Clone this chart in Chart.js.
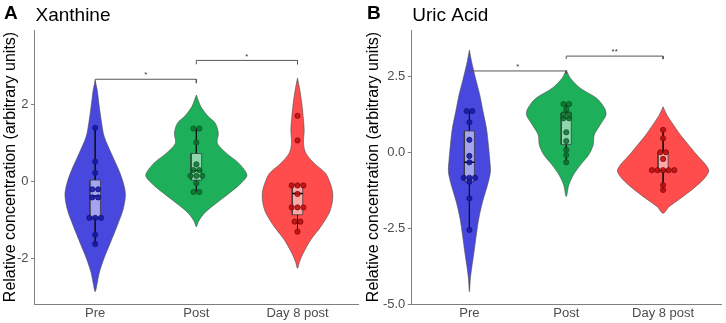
<!DOCTYPE html>
<html>
<head>
<meta charset="utf-8">
<script src="https://cdn.jsdelivr.net/npm/chart.js@4.4.0/dist/chart.umd.min.js"></script>
<style>
  body { margin: 0; background: #fff; width: 726px; height: 323px; overflow: hidden; position: relative; }
  .panel { position: absolute; top: 0; width: 363px; height: 323px; }
</style>
</head>
<body>
<div class="panel" style="left:0"><canvas id="chartA" width="363" height="323"></canvas></div>
<div class="panel" style="left:363px"><canvas id="chartB" width="363" height="323"></canvas></div>
<script>
// categories on the x axis
const categories = ["Pre", "Post", "Day 8 post"];

// ---- Xanthine (panel A) ----
const xanTicks = [-2, 0, 2];
// violin outline: levels and half widths (x units)
const xanPreVy = [2.62, 2.38, 2.04, 1.60, 1.17, 0.74, 0.30, -0.04, -0.35, -0.74, -1.17, -1.60, -2.03, -2.38, -2.64, -2.86];
const xanPreVw = [0, .02, .036, .059, .089, .158, .233, .279, .299, .274, .214, .148, .082, .039, .02, 0];
const xanPostVy = [2.25, 1.95, 1.69, 1.52, 1.26, 1.0, 0.74, 0.48, 0.17, -0.04, -0.30, -0.56, -0.82, -1.04, -1.17];
const xanPostVw = [0, .044, .118, .187, .217, .207, .296, .419, .5, .443, .325, .197, .079, .02, 0];
const xanDay8Vy = [2.69, 2.38, 2.04, 1.69, 1.34, 1.0, 0.74, 0.48, 0.22, -0.04, -0.30, -0.56, -0.82, -1.17, -1.51, -1.86, -2.08, -2.25];
const xanDay8Vw = [0, .023, .042, .056, .066, .059, .082, .164, .276, .323, .348, .342, .312, .23, .131, .056, .02, 0];
// individual samples
const xanPre = [1.40, 0.52, 0.23, -0.20, -0.20, -0.41, -0.41, -0.94, -0.94, -0.94, -1.38, -1.62];
const xanPost = [1.38, 1.38, 1.02, 0.45, 0.30, 0.30, 0.15, 0.15, 0.15, -0.04, -0.27, -0.27];
const xanDay8 = [1.71, 1.07, -0.10, -0.10, -0.10, -0.32, -0.67, -0.67, -0.67, -1.04, -1.04, -1.30];
// box stats: [lower whisker, q1, median, q3, upper whisker]
const xanBoxPre = [-1.62, -0.92, -0.37, 0.04, 1.40];
const xanBoxPost = [-0.27, 0.04, 0.29, 0.73, 1.38];
const xanBoxDay8 = [-1.30, -0.86, -0.31, -0.09, -0.09];
// significance brackets
const xanBrFrom = [1, 2];
const xanBrTo = [2, 3];
const xanBrY = [2.66, 3.15];
const xanStarY = [2.83, 3.32];
const xanStars = ["*", "*"];

// ---- Uric Acid (panel B) ----
const uricTicks = [-5, -2.5, 0, 2.5];
const uricPreVy = [3.37, 2.99, 2.44, 1.89, 1.34, 0.79, 0.24, -0.31, -0.64, -1.08, -1.63, -2.18, -2.73, -3.28, -3.82, -4.15, -4.6];
const uricPreVw = [0, .022, .063, .107, .141, .176, .196, .212, .217, .187, .136, .097, .071, .048, .023, .01, 0];
const uricPostVy = [2.71, 2.44, 2.11, 1.78, 1.45, 1.23, 0.90, 0.57, 0.24, -0.09, -0.42, -0.75, -1.08, -1.46];
const uricPostVw = [0, .043, .145, .314, .396, .41, .349, .289, .278, .23, .145, .073, .026, 0];
const uricDay8Vy = [1.50, 1.23, 0.90, 0.57, 0.24, -0.09, -0.42, -0.62, -0.86, -1.19, -1.52, -1.79, -2.01];
const uricDay8Vw = [0, .039, .107, .179, .263, .349, .442, .472, .426, .314, .179, .063, 0];
const uricPre = [1.36, 1.36, 0.99, 0.41, -0.12, -0.33, -0.84, -0.84, -0.84, -0.97, -1.52, -2.56];
const uricPost = [1.59, 1.59, 1.42, 1.25, 1.25, 1.12, 1.12, 0.66, 0.37, 0.08, -0.09, -0.33];
const uricDay8 = [0.74, 0.46, 0.0, 0.0, -0.22, -0.59, -0.59, -0.59, -0.59, -0.59, -1.08, -1.24];
const uricBoxPre = [-2.56, -0.95, -0.33, 0.70, 1.36];
const uricBoxPost = [-0.33, 0.26, 1.14, 1.29, 1.59];
const uricBoxDay8 = [-1.24, -0.64, -0.59, 0.0, 0.74];
const uricBrFrom = [1, 2];
const uricBrTo = [2, 3];
const uricBrY = [2.68, 3.17];
const uricStarY = [2.90, 3.38];
const uricStars = ["*", "**"];

// styles
const FONT = '"Liberation Sans", Arial, sans-serif';
const violinFill = ["#4848de", "#1daf5a", "#ff4c4c"];
const dotFill = ["rgba(25,25,165,0.9)", "rgba(10,115,45,0.85)", "rgba(195,15,15,0.9)"];
const dotLine = ["#12127a", "#0b5226", "#7e0b0b"];
const BOX_HW = 0.052;
const DOT_GAP = 0.058;
const AXIS_GREY = "#7f7f7f";

function violinOutline(c, ys, ws) {
  const right = ys.map((y, i) => ({ x: c + ws[i], y: y }));
  const left = ys.map((y, i) => ({ x: c - ws[i], y: y })).reverse();
  return right.concat(left.slice(1));
}
function boxOutline(c, b) {
  return [
    { x: c - BOX_HW, y: b[1] }, { x: c + BOX_HW, y: b[1] },
    { x: c + BOX_HW, y: b[3] }, { x: c - BOX_HW, y: b[3] },
    { x: c - BOX_HW, y: b[1] }
  ];
}
function whiskerLine(c, b) {
  return [{ x: c, y: b[4] }, { x: c, y: b[3] }, { x: c, y: null }, { x: c, y: b[1] }, { x: c, y: b[0] }];
}
// put equal values side by side
function spreadDots(c, vals) {
  const counts = {}, seen = {};
  vals.forEach(v => { counts[v] = (counts[v] || 0) + 1; });
  return vals.map(v => {
    seen[v] = seen[v] === undefined ? 0 : seen[v] + 1;
    return { x: c + (seen[v] - (counts[v] - 1) / 2) * DOT_GAP, y: v };
  });
}

const panelText = {
  id: "panelText",
  afterDraw(chart, args, opts) {
    const ctx = chart.ctx;
    const xs = chart.scales.x, ys = chart.scales.y;
    ctx.save();
    ctx.fillStyle = "#000";
    ctx.textBaseline = "alphabetic";
    ctx.font = "bold 19px " + FONT;
    ctx.fillText(opts.letter, 4, 18.5);
    ctx.font = "19px " + FONT;
    ctx.fillText(opts.title, chart.chartArea.left + 1, 21);
    ctx.font = "8px " + FONT;
    ctx.textAlign = "center";
    ctx.fillStyle = "#333";
    opts.starText.forEach((t, i) => {
      const xm = (opts.from[i] + opts.to[i]) / 2;
      ctx.fillText(t, xs.getPixelForValue(xm), ys.getPixelForValue(opts.starY[i]) + 4.7);
    });
    ctx.restore();
  }
};

function buildPanel(id, p) {
  const datasets = [];
  p.groups.forEach((g, i) => {
    const c = i + 1;
    datasets.push({
      data: violinOutline(c, g.vy, g.vw), showLine: true, fill: "shape", tension: 0.3,
      backgroundColor: violinFill[i], borderColor: "#4d4d4d", borderWidth: 0.6,
      pointRadius: 0, order: 10
    });
    datasets.push({
      data: whiskerLine(c, g.box), showLine: true, fill: false, tension: 0,
      borderColor: "#111", borderWidth: 0.9, pointRadius: 0, order: 8
    });
    datasets.push({
      data: boxOutline(c, g.box), showLine: true, fill: "shape", tension: 0,
      backgroundColor: "rgba(255,255,255,0.5)", borderColor: "#333", borderWidth: 0.7,
      pointRadius: 0, order: 7
    });
    datasets.push({
      data: [{ x: c - BOX_HW, y: g.box[2] }, { x: c + BOX_HW, y: g.box[2] }],
      showLine: true, fill: false, borderColor: "#000", borderWidth: 1.4, pointRadius: 0, order: 6
    });
    datasets.push({
      data: spreadDots(c, g.dots), showLine: false,
      backgroundColor: dotFill[i], borderColor: dotLine[i], borderWidth: 0.8,
      pointRadius: 2.6, order: 5
    });
  });
  p.brFrom.forEach((f, i) => {
    const t = p.brTo[i], y = p.brY[i], d = 0.1;
    datasets.push({
      data: [{ x: f, y: y - d }, { x: f, y: y }, { x: t, y: y }, { x: t, y: y - d }],
      showLine: true, fill: false, tension: 0, borderColor: "#555", borderWidth: 1,
      pointRadius: 0, order: 9
    });
  });

  new Chart(document.getElementById(id), {
    type: "scatter",
    data: { datasets: datasets },
    options: {
      responsive: false,
      animation: false,
      events: [],
      layout: { padding: { top: 30, right: 3, left: 0, bottom: 0 } },
      plugins: {
        legend: { display: false },
        tooltip: { enabled: false },
        panelText: { letter: p.letter, title: p.title, starText: p.stars, starY: p.starY, from: p.brFrom, to: p.brTo }
      },
      scales: {
        x: {
          type: "linear", min: 0.4, max: 3.6,
          afterBuildTicks: s => { s.ticks = categories.map((c, i) => ({ value: i + 1 })); },
          afterFit: s => { s.height = 19; },
          ticks: {
            color: "#4d4d4d", font: { size: 13, family: FONT, lineHeight: 1 }, padding: 3,
            maxRotation: 0, autoSkip: false, callback: v => categories[v - 1]
          },
          grid: { display: true, drawOnChartArea: false, drawTicks: false, color: AXIS_GREY },
          border: { display: true, color: AXIS_GREY, width: 1 }
        },
        y: {
          type: "linear", min: p.yMin, max: p.yMax,
          afterBuildTicks: s => { s.ticks = p.ticks.map(v => ({ value: v })); },
          afterFit: s => { s.width = p.yWidth; },
          ticks: {
            color: "#4d4d4d", font: { size: 13, family: FONT }, padding: 2.5,
            callback: v => p.fmt(v)
          },
          grid: { drawOnChartArea: false, drawTicks: true, tickLength: 3.5, color: AXIS_GREY },
          border: { display: true, color: AXIS_GREY, width: 1 },
          title: {
            display: true, text: "Relative concentration (arbitrary units)", color: "#000",
            font: { size: 16, family: FONT }, padding: { top: 1, bottom: 0 }
          }
        }
      }
    },
    plugins: [panelText]
  });
}

buildPanel("chartA", {
  letter: "A", title: "Xanthine",
  yMin: -3.18, yMax: 3.94, ticks: xanTicks, yWidth: 34.5, fmt: v => String(v),
  groups: [
    { vy: xanPreVy, vw: xanPreVw, dots: xanPre, box: xanBoxPre },
    { vy: xanPostVy, vw: xanPostVw, dots: xanPost, box: xanBoxPost },
    { vy: xanDay8Vy, vw: xanDay8Vw, dots: xanDay8, box: xanBoxDay8 }
  ],
  brFrom: xanBrFrom, brTo: xanBrTo, brY: xanBrY, starY: xanStarY, stars: xanStars
});

buildPanel("chartB", {
  letter: "B", title: "Uric Acid",
  yMin: -5, yMax: 4.03, ticks: uricTicks, yWidth: 48.3, fmt: v => v.toFixed(1),
  groups: [
    { vy: uricPreVy, vw: uricPreVw, dots: uricPre, box: uricBoxPre },
    { vy: uricPostVy, vw: uricPostVw, dots: uricPost, box: uricBoxPost },
    { vy: uricDay8Vy, vw: uricDay8Vw, dots: uricDay8, box: uricBoxDay8 }
  ],
  brFrom: uricBrFrom, brTo: uricBrTo, brY: uricBrY, starY: uricStarY, stars: uricStars
});
</script>
</body>
</html>
